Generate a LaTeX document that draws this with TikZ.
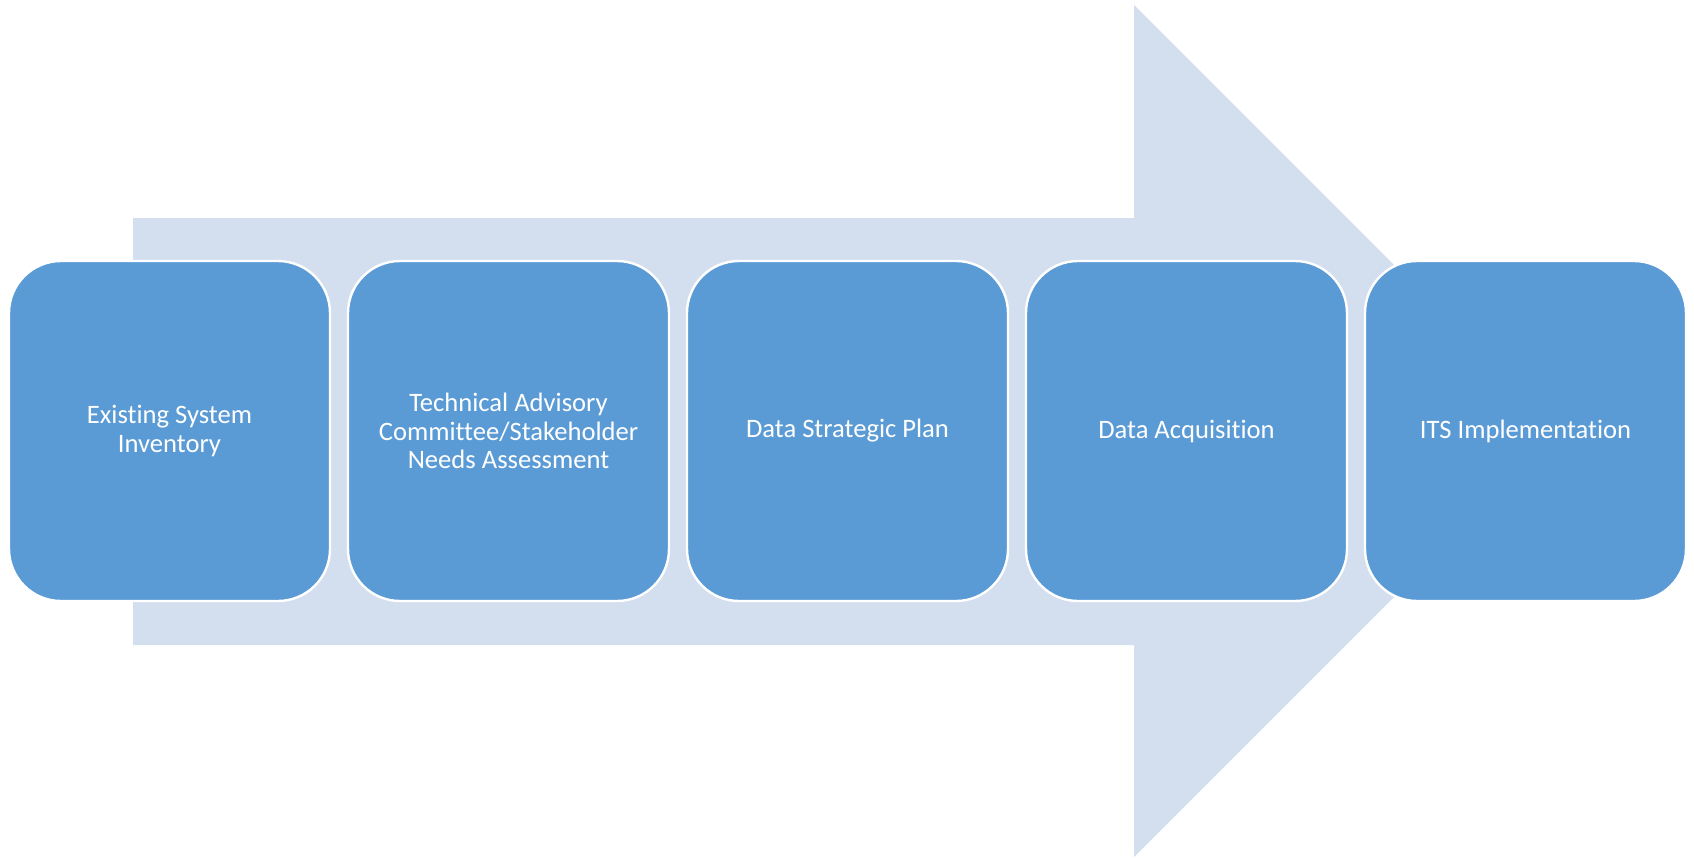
\documentclass[tikz,border=0pt]{standalone}
\usepackage{fontspec}
\setmainfont[Ligatures={NoCommon}]{Carlito}
\usetikzlibrary{positioning}
\definecolor{arrowfill}{RGB}{211,223,239}
\definecolor{stagefill}{RGB}{91,155,213}

\begin{document}
\begin{tikzpicture}[x=0.5pt,y=-0.5pt,
	stage/.style={rectangle, rounded corners=26pt, fill=stagefill, draw=white, line width=1.2pt,
		minimum width=160.5pt, minimum height=170pt, outer sep=0pt, text=white, align=center,
		font=\fontsize{13.3}{14.3}\selectfont},
	node distance=9pt]
	\useasboundingbox (0,0) rectangle (1694,858);
	
	% big arrow behind the stages
	\fill[arrowfill] (133,218) -- (1134,218) -- (1134,5) -- (1560,431) -- (1134,857) -- (1134,645) -- (133,645) -- cycle;
	
	\node[stage] (inventory) at (169.5,431) {Existing System\\Inventory};
	\node[stage, right=of inventory] (needs) {Technical Advisory\\Committee/Stakeholder\\Needs Assessment};
	\node[stage, right=of needs] (plan) {Data Strategic Plan};
	\node[stage, right=of plan] (acquisition) {Data Acquisition};
	\node[stage, right=of acquisition] (its) {ITS Implementation};
\end{tikzpicture}
\end{document}
